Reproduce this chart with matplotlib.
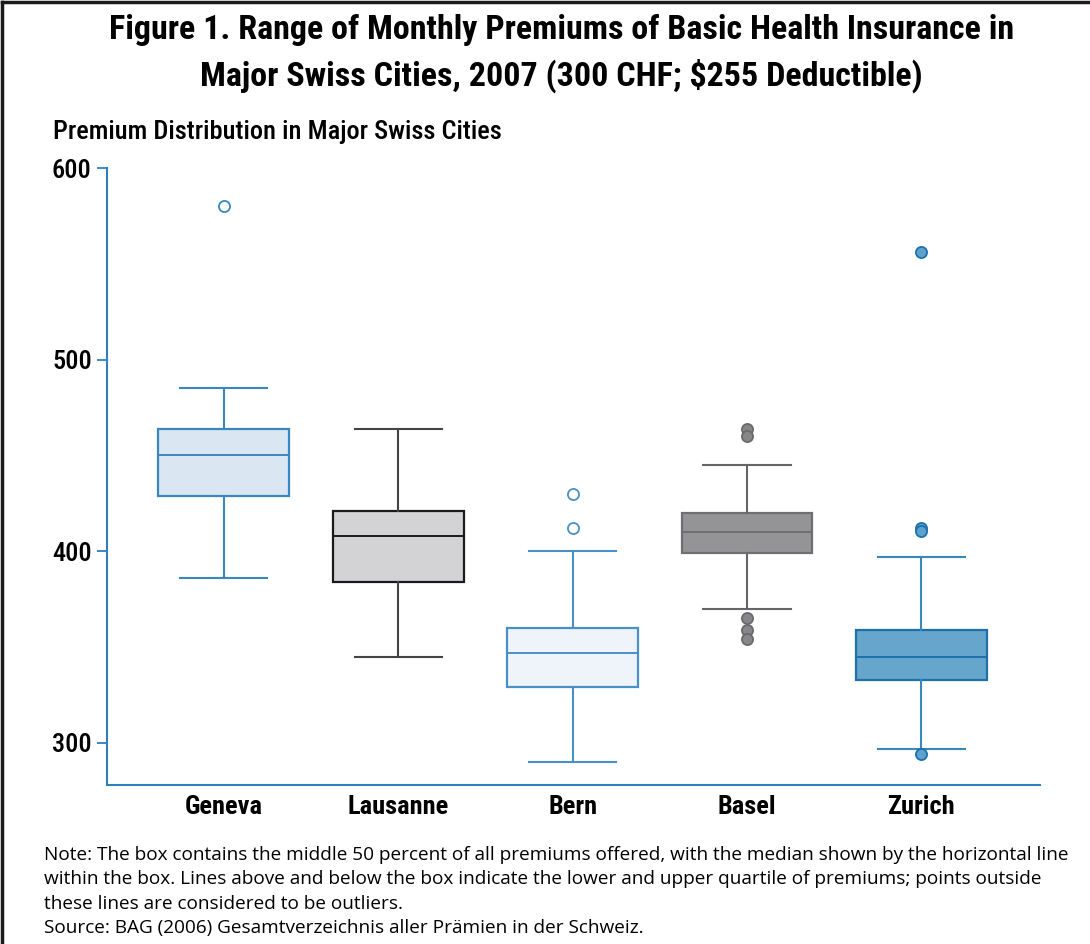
import matplotlib
matplotlib.use("Agg")
import matplotlib.pyplot as plt
from matplotlib.lines import Line2D

cities = ["Geneva", "Lausanne", "Bern", "Basel", "Zurich"]
whisker_low = [386, 345, 290, 370, 297]
q1 = [429, 384, 329, 399, 333]
median = [450, 408, 347, 410, 345]
q3 = [464, 421, 360, 420, 359]
whisker_high = [485, 464, 400, 445, 397]
outliers = [
    [580],
    [],
    [430, 412],
    [464, 460, 365, 359, 354],
    [556, 412, 410.5, 294],
]
yticks = [300, 400, 500, 600]

fills = ["#dae7f3", "#d3d3d5", "#eef4fa", "#949497", "#66a6cd"]
edges = ["#3a87c0", "#1a1a1a", "#4a90c8", "#6f6f72", "#1f6fab"]
whisk_col = ["#3a87c0", "#444444", "#4a90c8", "#666669", "#3a87c0"]
flier_fc = ["#ffffff", "#ffffff", "#ffffff", "#87878a", "#5ea1cc"]
flier_ec = ["#3a87c0", "#1a1a1a", "#4a90c8", "#6a6a6d", "#1c70ad"]

COND = ["Roboto Condensed", "Liberation Sans Narrow", "Roboto", "DejaVu Sans"]
NOTE = ["Open Sans", "Liberation Sans", "DejaVu Sans"]

fig = plt.figure(figsize=(10.9, 9.44), dpi=100)
ax = fig.add_axes([107/1090, 1-785/944, (1040-107)/1090, (785-168)/944])

stats = []
for i, c in enumerate(cities):
    stats.append(dict(label=c, whislo=whisker_low[i], q1=q1[i], med=median[i],
                      q3=q3[i], whishi=whisker_high[i], fliers=outliers[i]))

for i, s in enumerate(stats):
    ax.bxp([s], positions=[i], widths=0.75, patch_artist=True,
           boxprops=dict(facecolor=fills[i], edgecolor=edges[i], linewidth=1.6),
           medianprops=dict(color=edges[i], linewidth=1.4),
           whiskerprops=dict(color=whisk_col[i], linewidth=1.5),
           capprops=dict(color=whisk_col[i], linewidth=1.5),
           capwidths=0.5,
           flierprops=dict(marker="o", markersize=8, markerfacecolor=flier_fc[i],
                           markeredgecolor=flier_ec[i], markeredgewidth=1.3,
                           linestyle="none"))

ax.set_xlim(-0.67, 4.68)
ax.set_ylim(278, 600)
ax.set_yticks(yticks)
ax.set_yticklabels([str(t) for t in yticks], fontsize=19, family=COND, fontweight="medium")
ax.set_xticks(range(len(cities)))
ax.set_xticklabels(cities, fontsize=19, family=COND, fontweight="bold")
for sp in ["top", "right"]:
    ax.spines[sp].set_visible(False)
for sp in ["left", "bottom"]:
    ax.spines[sp].set_color("#2f7fc0")
    ax.spines[sp].set_linewidth(1.5)
ax.tick_params(axis="y", length=7, width=1.3, color="#2f7fc0", pad=4)
ax.tick_params(axis="x", length=0, pad=7)

fig.text(0.515, 1-30/944, "Figure 1. Range of Monthly Premiums of Basic Health Insurance in",
         ha="center", va="center", fontsize=24.5, family=COND, fontweight="bold")
fig.text(0.515, 1-76/944, "Major Swiss Cities, 2007 (300 CHF; $255 Deductible)",
         ha="center", va="center", fontsize=24.5, family=COND, fontweight="bold")
fig.text(53/1090, 1-132/944, "Premium Distribution in Major Swiss Cities",
         ha="left", va="center", fontsize=19, family=COND, fontweight="medium")

notes = [
    "Note: The box contains the middle 50 percent of all premiums offered, with the median shown by the horizontal line",
    "within the box. Lines above and below the box indicate the lower and upper quartile of premiums; points outside",
    "these lines are considered to be outliers.",
    "Source: BAG (2006) Gesamtverzeichnis aller Prämien in der Schweiz.",
]
ys = [855, 879, 904, 928]
for t, y in zip(notes, ys):
    fig.text(44/1090, 1-y/944, t, ha="left", va="center", fontsize=13.7, family=NOTE)

fig.add_artist(Line2D([2/1090, 1], [1-2/944, 1-2/944], transform=fig.transFigure,
                      color="#1a1a1a", linewidth=2.5))
fig.add_artist(Line2D([2/1090, 2/1090], [0, 1-2/944], transform=fig.transFigure,
                      color="#1a1a1a", linewidth=2.5))

fig.savefig("out.png", dpi=100)
